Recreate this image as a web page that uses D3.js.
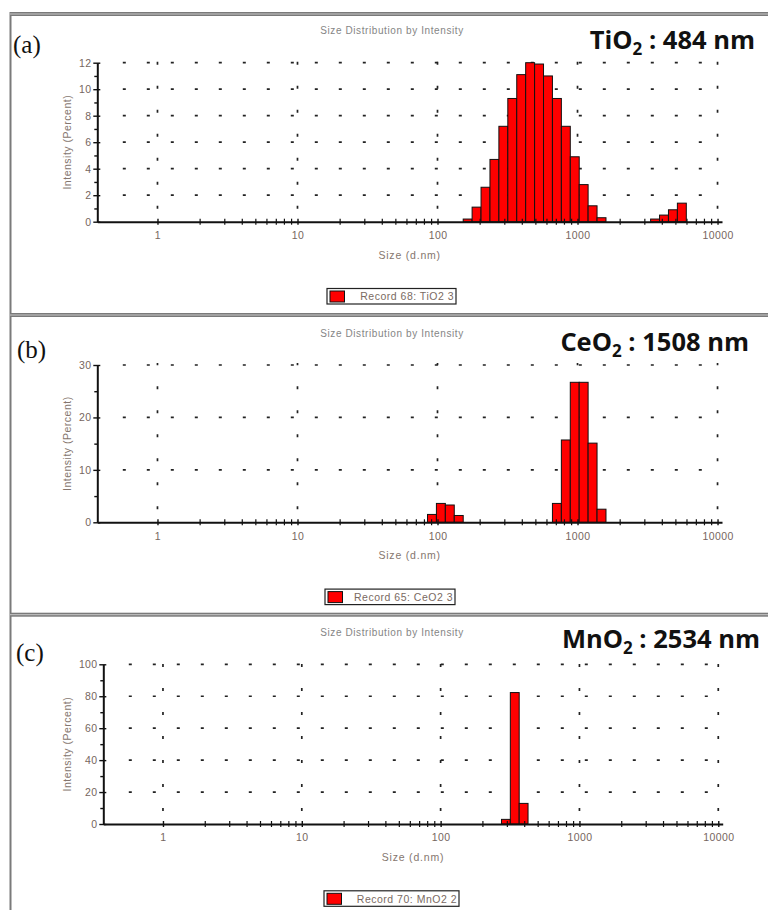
<!DOCTYPE html>
<html><head><meta charset="utf-8">
<script src="https://cdn.jsdelivr.net/npm/d3@7"></script>
<style>body{margin:0;background:#fff;overflow:hidden}</style>
</head><body>
<svg id="chart" width="768" height="910"></svg>
<script>
// ---------- DATA ----------
// size classes (d.nm, bin centres) and intensities (%)
const sizesA  = [164.2, 190.1, 220.2, 255.0, 295.3, 342.0, 396.1, 458.7, 531.2, 615.1, 712.4, 825.0, 955.4, 1106, 1281, 1484, 3580, 4145, 4801, 5560];
const valuesA = [0.2, 1.1, 2.6, 4.7, 7.2, 9.3, 11.1, 12.0, 11.9, 11.0, 9.3, 7.2, 4.9, 2.8, 1.2, 0.3, 0.2, 0.5, 0.9, 1.4];

const sizesB  = [91.28, 105.7, 122.4, 141.8, 712.4, 825.0, 955.4, 1106, 1281, 1484];
const valuesB = [1.5, 3.6, 3.3, 1.3, 3.6, 15.7, 26.7, 26.7, 15.1, 2.5];

const sizesC  = [295.3, 342.0, 396.1];
const valuesC = [2.9, 82.3, 12.9];

const yTicksA = [0, 2, 4, 6, 8, 10, 12];
const yMinorA = [1, 3, 5, 7, 9, 11];
const yTicksB = [0, 10, 20, 30];
const yMinorB = [5, 15, 25];
const yTicksC = [0, 20, 40, 60, 80, 100];
const yMinorC = [10, 30, 50, 70, 90];

const xTickValues = [1, 10, 100, 1000, 10000];
const xTickLabels = ["1", "10", "100", "1000", "10000"];

const panelLabels = ["(a)", "(b)", "(c)"];
const formulas = [["TiO", "2", " : 484 nm"], ["CeO", "2", " : 1508 nm"], ["MnO", "2", " : 2534 nm"]];
const legendTexts = ["Record 68: TiO2 3", "Record 65: CeO2 3", "Record 70: MnO2 2"];
const chartTitle = "Size Distribution by Intensity";
const xTitle = "Size (d.nm)";
const yTitle = "Intensity (Percent)";

// ---------- LAYOUT ----------
const binRatio = Math.pow(10000 / 0.4, 1 / 69);
const xDomain = [0.4 / Math.sqrt(binRatio), 10000 * Math.sqrt(binRatio)];

const layouts = [
  {top: 14, x0: 97.3, x1: 722, y0: 221.7, y1: 62.7, labX: 13, labY: 53, labSize: 25, fEnd: 755, fY: 49,
   titleY: 34, legX: 327, legW: 129},
  {top: 315, x0: 97.3, x1: 722, y0: 522.3, y1: 365, labX: 17, labY: 358, labSize: 25, fEnd: 749, fY: 351,
   titleY: 337, legX: 325, legW: 130},
  {top: 614.7, x0: 103.3, x1: 722.7, y0: 824, y1: 664.3, labX: 16, labY: 661, labSize: 25, fEnd: 760, fY: 648,
   titleY: 636, legX: 324, legW: 135}
];

const panels = [
  {sizes: sizesA, values: valuesA, yMax: 12, major: yTicksA, minor: yMinorA},
  {sizes: sizesB, values: valuesB, yMax: 30, major: yTicksB, minor: yMinorB},
  {sizes: sizesC, values: valuesC, yMax: 100, major: yTicksC, minor: yMinorC}
];

const svg = d3.select("#chart");
const numColor = "#76665e";
const sans = "'Liberation Sans', Arial, sans-serif";

// frame
function hBorder(y) {
  svg.append("rect").attr("x", 10).attr("y", y - 2).attr("width", 758).attr("height", 4).attr("fill", "#7a7a7a");
  svg.append("line").attr("x1", 10).attr("x2", 768).attr("y1", y).attr("y2", y).attr("stroke", "#c8c8c8").attr("stroke-width", 1);
}
svg.append("rect").attr("x", 9.5).attr("y", 12).attr("width", 2).attr("height", 898).attr("fill", "#7a7a7a");
hBorder(14); hBorder(315); hBorder(614.7);

panels.forEach((p, i) => {
  const L = layouts[i];
  const g = svg.append("g");
  const x = d3.scaleLog().domain(xDomain).range([L.x0, L.x1]);
  const y = d3.scaleLinear().domain([0, p.yMax]).range([L.y0, L.y1]);

  // titles
  g.append("text").attr("x", 392).attr("y", L.titleY).attr("text-anchor", "middle")
    .attr("font-family", sans).attr("font-size", 10).attr("letter-spacing", 0.6).attr("fill", "#858585").text(chartTitle);
  g.append("text").attr("x", L.labX).attr("y", L.labY)
    .attr("font-family", "'Liberation Serif', 'Times New Roman', serif").attr("font-size", L.labSize)
    .attr("fill", "#111").text(panelLabels[i]);
  const f = g.append("text").attr("x", L.fEnd).attr("y", L.fY).attr("text-anchor", "end")
    .attr("font-family", "'Open Sans', sans-serif").attr("font-weight", "bold").attr("font-size", 25.5).attr("fill", "#111");
  f.append("tspan").text(formulas[i][0]);
  f.append("tspan").attr("dy", 6).attr("font-size", 17).text(formulas[i][1]);
  f.append("tspan").attr("dy", -6).text(formulas[i][2]);

  // dotted grid
  const grid = g.append("g").attr("stroke", "#222").attr("stroke-width", 1.7).attr("stroke-dasharray", "3,21");
  p.major.filter(v => v > 0).forEach(v => {
    grid.append("line").attr("x1", L.x0 + 25.5).attr("x2", L.x1 - 2).attr("y1", y(v)).attr("y2", y(v));
  });
  xTickValues.forEach(v => {
    grid.append("line").attr("x1", x(v)).attr("x2", x(v)).attr("y1", L.y0 - 13).attr("y2", L.y1 - 2);
  });

  // bars
  g.append("g").selectAll("rect").data(p.sizes.map((s, k) => ({s, v: p.values[k]}))).join("rect")
    .attr("x", d => x(d.s / Math.sqrt(binRatio)))
    .attr("width", d => x(d.s * Math.sqrt(binRatio)) - x(d.s / Math.sqrt(binRatio)))
    .attr("y", d => y(d.v))
    .attr("height", d => L.y0 - y(d.v))
    .attr("fill", "#ff0000").attr("stroke", "#111").attr("stroke-width", 1);

  // y axis
  const yAxis = d3.axisLeft(y).tickValues(p.major).tickSize(4).tickPadding(2).tickSizeOuter(0);
  const ya = g.append("g").attr("transform", `translate(${L.x0},0)`).call(yAxis);
  ya.select(".domain").attr("stroke", "#111").attr("stroke-width", 2);
  ya.selectAll(".tick line").attr("stroke", "#111").attr("stroke-width", 1.4).attr("x2", -4).attr("x1", 3);
  ya.selectAll(".tick text").attr("font-family", sans).attr("font-size", 10.5).attr("letter-spacing", 0.3).attr("fill", numColor);
  const ym = d3.axisLeft(y).tickValues(p.minor).tickSize(3).tickFormat("");
  const yma = g.append("g").attr("transform", `translate(${L.x0},0)`).call(ym);
  yma.select(".domain").remove();
  yma.selectAll(".tick line").attr("stroke", "#111").attr("stroke-width", 1.4);

  // x axis
  const minors = [];
  [1, 10, 100, 1000].forEach(dec => { for (let m = 2; m <= 9; m++) minors.push(dec * m); });
  const xAxis = d3.axisBottom(x).tickValues(xTickValues).tickFormat((d, k) => xTickLabels[k]).tickSize(3).tickPadding(7).tickSizeOuter(0);
  const xa = g.append("g").attr("transform", `translate(0,${L.y0})`).call(xAxis);
  xa.select(".domain").attr("stroke", "#111").attr("stroke-width", 2);
  xa.selectAll(".tick line").attr("stroke", "#111").attr("stroke-width", 1.4).attr("y1", -3);
  xa.selectAll(".tick text").attr("font-family", sans).attr("font-size", 10.5).attr("letter-spacing", 0.4).attr("fill", numColor);
  const xm = d3.axisBottom(x).tickValues(minors).tickSize(3).tickFormat("");
  const xma = g.append("g").attr("transform", `translate(0,${L.y0})`).call(xm);
  xma.select(".domain").remove();
  xma.selectAll(".tick line").attr("stroke", "#111").attr("stroke-width", 1.2).attr("y1", -3);

  // axis titles
  g.append("text").attr("x", (L.x0 + L.x1) / 2).attr("y", L.y0 + 37).attr("text-anchor", "middle")
    .attr("font-family", sans).attr("font-size", 10.5).attr("letter-spacing", 0.8).attr("fill", "#85766e").text(xTitle);
  g.append("text").attr("transform", `translate(71,${(L.y0 + L.y1) / 2}) rotate(-90)`).attr("text-anchor", "middle")
    .attr("font-family", sans).attr("font-size", 10.5).attr("letter-spacing", 0.5).attr("fill", "#85766e").text(yTitle);

  // legend
  const ly = L.y0 + 66.8;
  g.append("rect").attr("x", L.legX).attr("y", ly).attr("width", L.legW).attr("height", 15.5)
    .attr("fill", "#fff").attr("stroke", "#222").attr("stroke-width", 1.2);
  g.append("rect").attr("x", L.legX + 3).attr("y", ly + 2.5).attr("width", 14.5).attr("height", 11)
    .attr("fill", "#ff0000").attr("stroke", "#111").attr("stroke-width", 1);
  g.append("text").attr("x", L.legX + L.legW - 2).attr("y", ly + 11.8).attr("text-anchor", "end")
    .attr("font-family", sans).attr("font-size", 10.5).attr("letter-spacing", 0.5).attr("fill", "#7a6a62").text(legendTexts[i]);
});
</script>
</body></html>
